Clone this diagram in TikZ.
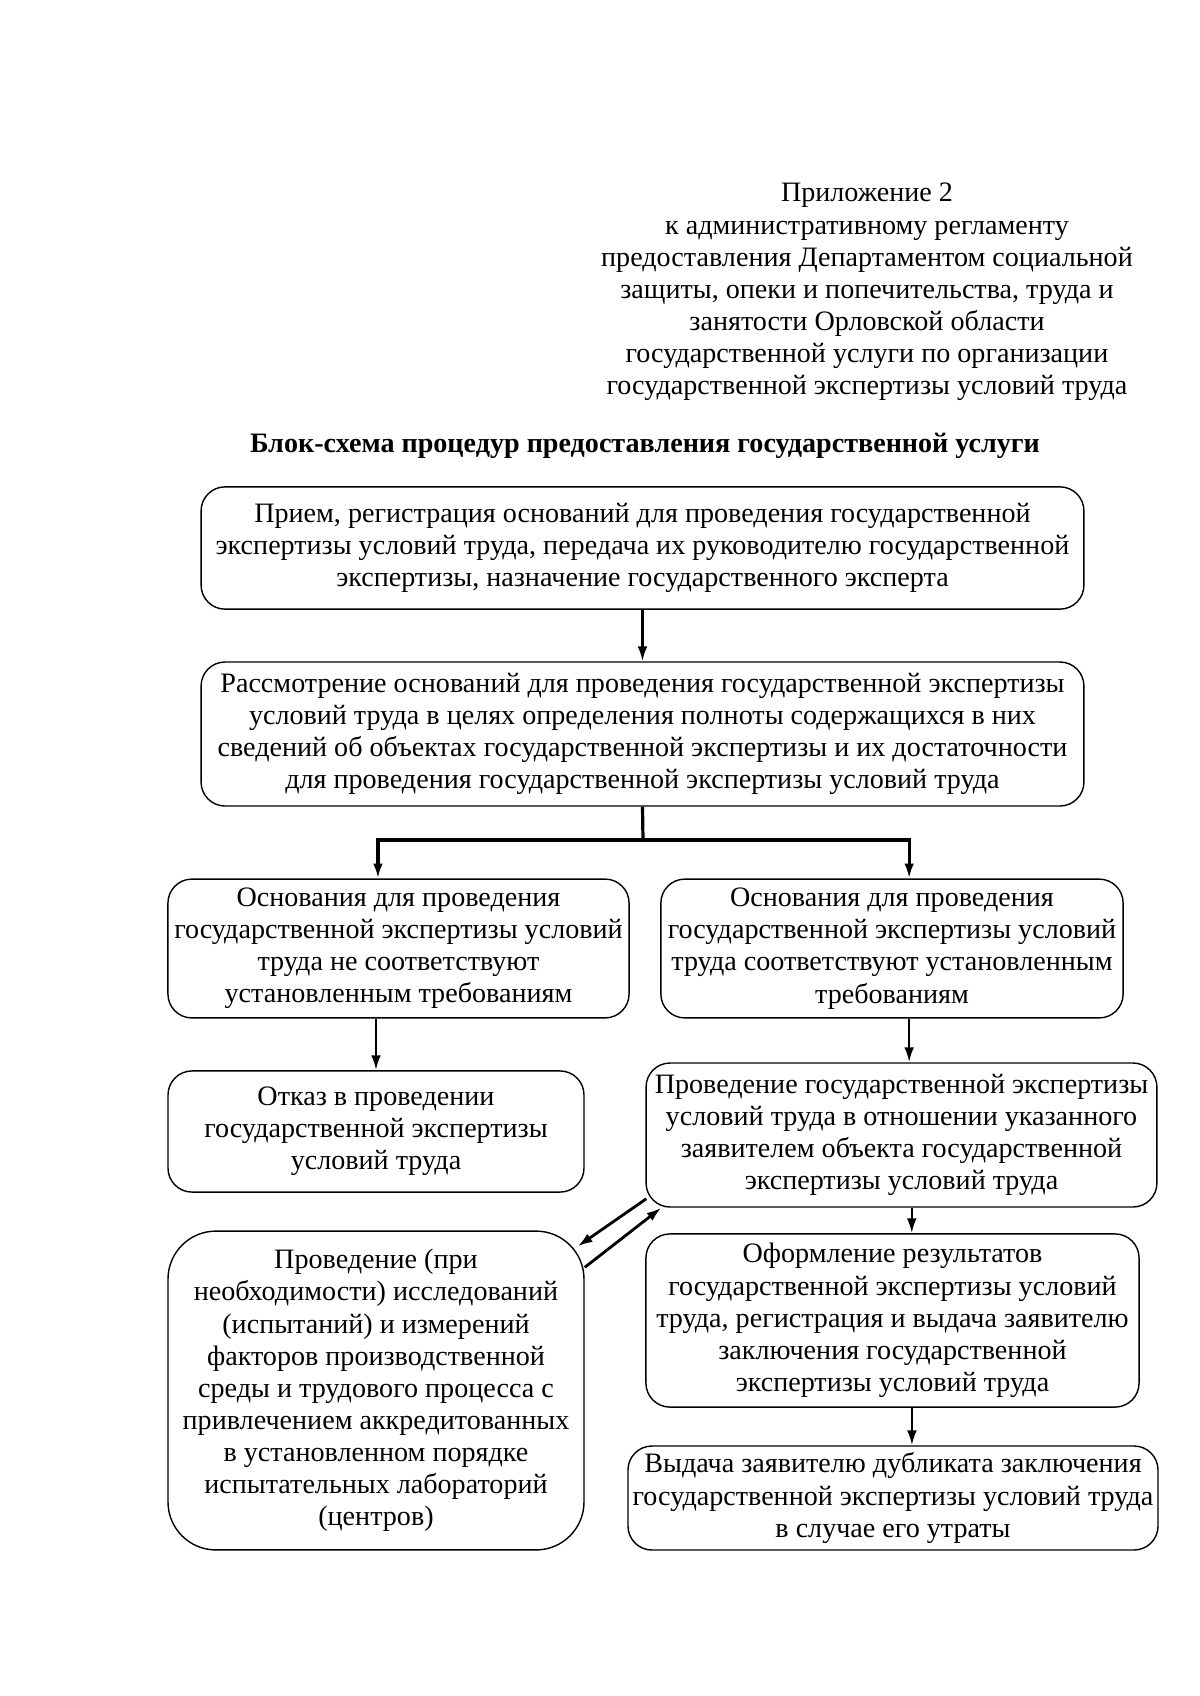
\documentclass[tikz,border=0pt]{standalone}
\usepackage{fontspec}
\setmainfont{Liberation Serif}
\usetikzlibrary{arrows.meta,calc}

\begin{document}
\begin{tikzpicture}[x=0.175mm,y=-0.175mm,
  every node/.style={font=\fontsize{14}{16}\selectfont, align=center},
  box/.style={draw, rounded corners=4.2mm, line width=0.7pt, inner sep=0.8mm},
  arr/.style={line width=1.2pt, -{Latex[length=2.6mm,width=1.7mm]}}]
\useasboundingbox (0,0) rectangle (1200,1696);

% heading
\node (app) at (867,292) {Приложение 2\\к административному регламенту\\предоставления Департаментом социальной\\защиты, опеки и попечительства, труда и\\занятости Орловской области\\государственной услуги по организации\\государственной экспертизы условий труда};
\node[font=\fontsize{14}{16}\selectfont\bfseries] (title) at (645,446) {Блок-схема процедур предоставления государственной услуги};

% boxes
\node[box, minimum width=154.5mm, minimum height=21.4mm] (b1) at (642.5,548)
  {Прием, регистрация оснований для проведения государственной\\экспертизы условий труда, передача их руководителю государственной\\экспертизы, назначение государственного эксперта};
\node[box, minimum width=154.5mm, minimum height=25.2mm] (b2) at (642.5,734)
  {Рассмотрение оснований для проведения государственной экспертизы\\условий труда в целях определения полноты содержащихся в них\\сведений об объектах государственной экспертизы и их достаточности\\для проведения государственной экспертизы условий труда};
\node[box, minimum width=80.7mm, minimum height=24.3mm] (b3) at (398.5,948.5)
  {Основания для проведения\\государственной экспертизы условий\\труда не соответствуют\\установленным требованиям};
\node[box, minimum width=80.9mm, minimum height=24.3mm] (b4) at (892,948.5)
  {Основания для проведения\\государственной экспертизы условий\\труда соответствуют установленным\\требованиям};
\node[box, minimum width=72.8mm, minimum height=21.2mm] (b5) at (376,1131.5)
  {Отказ в проведении\\государственной экспертизы\\условий труда};
\node[box, minimum width=89.4mm, minimum height=25.2mm] (b6) at (901.5,1135)
  {Проведение государственной экспертизы\\условий труда в отношении указанного\\заявителем объекта государственной\\экспертизы условий труда};
\node[box, minimum width=86.3mm, minimum height=30.3mm] (b7) at (892.5,1320.5)
  {Оформление результатов\\государственной экспертизы условий\\труда, регистрация и выдача заявителю\\заключения государственной\\экспертизы условий труда};
\node[box, rounded corners=8.4mm, minimum width=72.8mm, minimum height=55.8mm] (b8) at (376,1390.5)
  {Проведение (при\\необходимости) исследований\\(испытаний) и измерений\\факторов производственной\\среды и трудового процесса с\\привлечением аккредитованных\\в установленном порядке\\испытательных лабораторий\\(центров)};
\node[box, minimum width=92.4mm, minimum height=18.2mm] (b9) at (893,1498)
  {Выдача заявителю дубликата заключения\\государственной экспертизы условий труда\\в случае его утраты};

% connectors
\draw[arr] (b1.south) -- (b2.north);
\coordinate (fork) at (643,840);
\draw[line width=1.6pt] (b2.south) -- (fork);
\draw[arr, line width=1.6pt] (fork) -| ([xshift=-3.6mm]b3.north);
\draw[arr, line width=1.6pt] (fork) -| ([xshift=3mm]b4.north);
\draw[arr] (b3.south -| b5.north) -- (b5.north);
\draw[arr] ([xshift=3mm]b4.south) -- ([xshift=3mm]b4.south |- b6.north);
\draw[arr] ([xshift=1.8mm]b6.south) -- ([xshift=1.8mm]b6.south |- b7.north);
\draw[arr] ([xshift=3.4mm]b7.south) -- ([xshift=3.4mm]b7.south |- b9.north);
\draw[arr, line width=1.4pt] ($(b6.south west)+(1,-9)$) -- ($(b8.north east)+(-7,16)$);
\draw[arr, line width=1.4pt] ($(b8.north east)+(0,37)$) -- ($(b6.south west)+(16,0)$);
\end{tikzpicture}
\end{document}
